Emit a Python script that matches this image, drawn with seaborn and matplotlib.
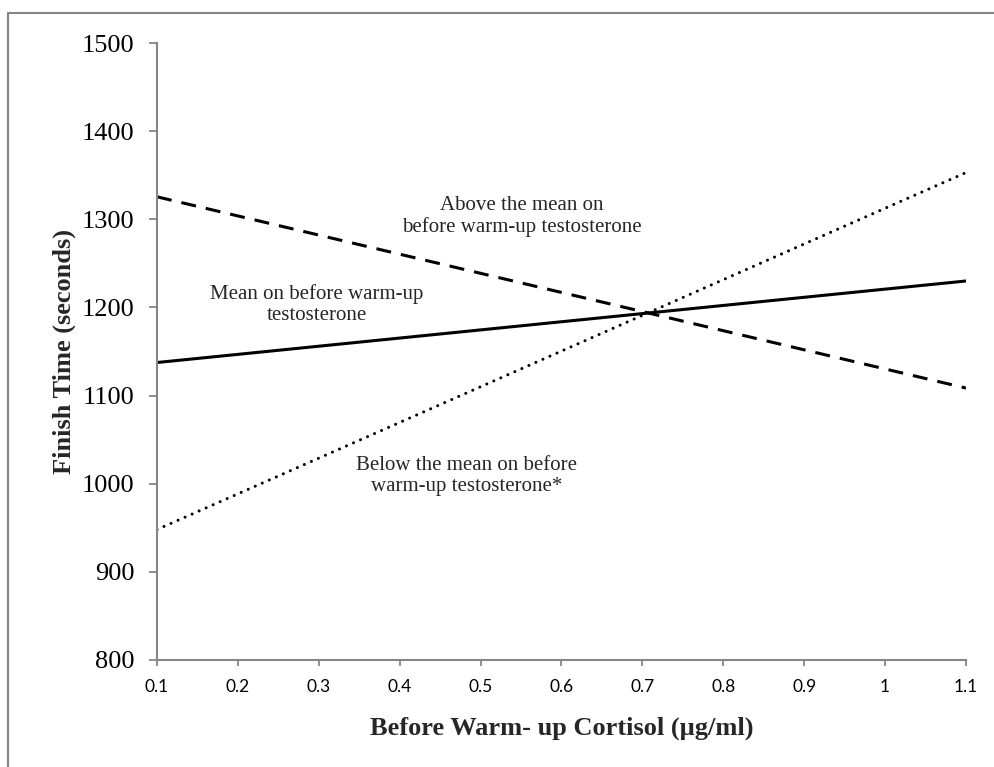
import matplotlib
matplotlib.use("Agg")
import matplotlib.pyplot as plt
from matplotlib.lines import Line2D
import seaborn as sns
import pandas as pd

# ---- data ----
cortisol = [0.1, 1.1]
mean_testosterone = [1137.5, 1230.0]
above_mean_testosterone = [1325.5, 1108.5]
below_mean_testosterone = [948.0, 1353.0]

x_ticks = [0.1, 0.2, 0.3, 0.4, 0.5, 0.6, 0.7, 0.8, 0.9, 1.0, 1.1]
x_tick_labels = ["0.1", "0.2", "0.3", "0.4", "0.5", "0.6", "0.7", "0.8", "0.9", "1", "1.1"]
y_ticks = [800, 900, 1000, 1100, 1200, 1300, 1400, 1500]
y_tick_labels = ["800", "900", "1000", "1100", "1200", "1300", "1400", "1500"]

label_mean = "Mean on before warm-up\ntestosterone"
label_above = "Above the mean on\nbefore warm-up testosterone"
label_below = "Below the mean on before\nwarm-up testosterone*"

sns.set_theme(style="white")
plt.rcParams["font.family"] = ["Liberation Serif", "DejaVu Serif"]

fig = plt.figure(figsize=(9.95, 7.67), dpi=100)
ax = fig.add_axes([157 / 995, 1 - 660 / 767, (966 - 157) / 995, (660 - 43) / 767])

gray = "#868686"
lw = 2.2

df_mean = pd.DataFrame({"x": cortisol, "y": mean_testosterone})
df_above = pd.DataFrame({"x": cortisol, "y": above_mean_testosterone})
df_below = pd.DataFrame({"x": cortisol, "y": below_mean_testosterone})

sns.lineplot(data=df_mean, x="x", y="y", ax=ax, color="black", linewidth=lw,
             linestyle="-", solid_capstyle="butt")
sns.lineplot(data=df_above, x="x", y="y", ax=ax, color="black", linewidth=lw,
             linestyle=(0, (4.9, 3.3)), dash_capstyle="butt")
sns.lineplot(data=df_below, x="x", y="y", ax=ax, color="black", linewidth=lw,
             linestyle=(0, (0.01, 2.5)), dash_capstyle="round")

ax.set_xlim(0.1, 1.1)
ax.set_ylim(800, 1500)
ax.set_xticks(x_ticks)
ax.set_xticklabels(x_tick_labels, fontfamily="Lato", fontsize=12.5)
ax.set_yticks(y_ticks)
ax.set_yticklabels(y_tick_labels, fontsize=19)

for s in ["top", "right"]:
    ax.spines[s].set_visible(False)
for s in ["left", "bottom"]:
    ax.spines[s].set_color(gray)
    ax.spines[s].set_linewidth(1.5)

ax.tick_params(axis="y", which="major", direction="out", length=6, width=1.3,
               color=gray, pad=10, left=True, labelcolor="black")
ax.tick_params(axis="x", which="major", direction="out", length=4, width=1.3,
               color=gray, pad=10, bottom=True, labelcolor="black")

ax.set_xlabel("Before Warm- up Cortisol (µg/ml)", fontsize=19, fontweight="bold",
              labelpad=15)
ax.set_ylabel("Finish Time (seconds)", fontsize=19, fontweight="bold", labelpad=4)

ax.text(0.298, 1203, label_mean, ha="center", va="center", fontsize=15,
        linespacing=1.15)
ax.text(0.551, 1302.7, label_above, ha="center", va="center", fontsize=15,
        linespacing=1.15)
ax.text(0.483, 1009, label_below, ha="center", va="center", fontsize=15,
        linespacing=1.15)

# outer frame (left and top edges visible in the reference)
fig.add_artist(Line2D([8 / 995, 8 / 995], [0, 1 - 13 / 767], transform=fig.transFigure,
                      color=gray, linewidth=1.5))
fig.add_artist(Line2D([8 / 995, 1], [1 - 13 / 767, 1 - 13 / 767], transform=fig.transFigure,
                      color=gray, linewidth=1.5))

fig.savefig("out.png", dpi=100)
